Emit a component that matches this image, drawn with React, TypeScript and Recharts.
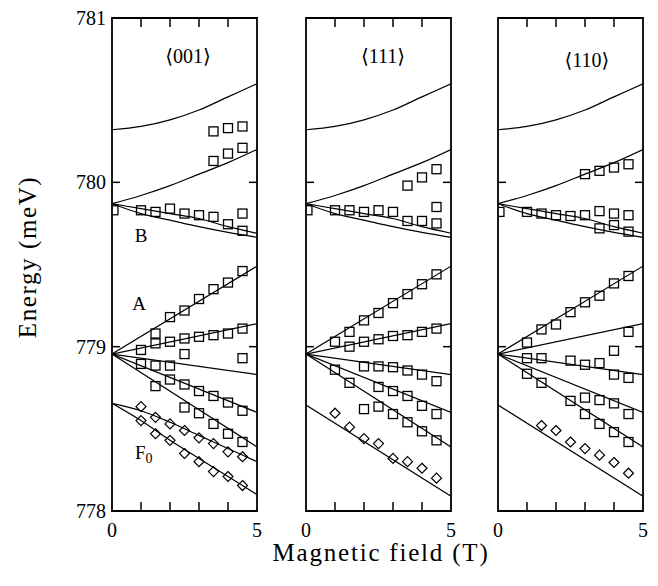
import React from "react";
import { ComposedChart, Line, Scatter, XAxis, YAxis, ReferenceArea } from "recharts";

// theory curves, read every 1 T
const curveField = [0, 1, 2, 3, 4, 5];
const topLevel = [780.32, 780.34, 780.38, 780.44, 780.52, 780.6];
const bUpper = [779.87, 779.92, 779.98, 780.05, 780.12, 780.2];
const bMiddle = [779.87, 779.84, 779.81, 779.78, 779.73, 779.69];
const bLower = [779.87, 779.81, 779.77, 779.73, 779.695, 779.665];
const f0Upper001 = [778.655, 778.61, 778.54, 778.46, 778.38, 778.3];
const f0Lower001 = [778.655, 778.55, 778.43, 778.32, 778.21, 778.1];

// straight fan lines, end points only
const lineField = [0, 5];
const a1Level = [778.955, 779.49];
const a2Level = [778.955, 779.14];
const a3Level = [778.955, 778.83];
const a4Level = [778.955, 778.6];
const a5Level = [778.955, 778.39];
const f0Level = [778.645, 778.09];

// measured points <001>
const sqField001 = [3.5, 4, 4.5, 3.5, 4, 4.5, 0.05, 1, 1.5, 2, 2.5, 3, 3.5, 4, 4.5, 4.5, 1.5, 2, 2.5, 3, 3.5, 4, 4.5, 1, 1.5, 2, 2.5, 3, 3.5, 4, 4.5, 2.5, 4.5, 1, 1.5, 2, 1.5, 2, 2.5, 3, 3.5, 4, 4.5, 2.5, 3, 3.5, 4, 4.5];
const sqEnergy001 = [780.31, 780.33, 780.34, 780.13, 780.175, 780.21, 779.83, 779.83, 779.82, 779.84, 779.81, 779.8, 779.79, 779.745, 779.705, 779.81, 779.08, 779.18, 779.22, 779.29, 779.35, 779.39, 779.46, 778.98, 779.02, 779.03, 779.05, 779.06, 779.07, 779.08, 779.11, 778.955, 778.93, 778.895, 778.885, 778.885, 778.76, 778.8, 778.77, 778.73, 778.7, 778.66, 778.61, 778.63, 778.595, 778.53, 778.47, 778.42];
const dmField001 = [1, 1.5, 2, 2.5, 3, 3.5, 4, 4.5, 1, 1.5, 2, 2.5, 3, 3.5, 4, 4.5];
const dmEnergy001 = [778.635, 778.57, 778.53, 778.49, 778.445, 778.41, 778.36, 778.33, 778.55, 778.47, 778.43, 778.35, 778.3, 778.24, 778.21, 778.155];

// measured points <111>
const sqField111 = [3.5, 4, 4.5, 4.5, 4.5, 4, 3.5, 3, 2.5, 2, 1.5, 1, 0.05, 1, 1.5, 2, 2.5, 3, 3.5, 4, 4.5, 1.5, 2, 2.5, 3, 3.5, 4, 4.5, 1, 2, 2.5, 3, 3.5, 4, 4.5, 1.5, 2.5, 3, 3.5, 4, 4.5, 2, 2.5, 3, 3.5, 4, 4.5];
const sqEnergy111 = [779.98, 780.03, 780.08, 779.85, 779.75, 779.765, 779.765, 779.82, 779.83, 779.82, 779.83, 779.83, 779.83, 779.03, 779.09, 779.16, 779.205, 779.265, 779.32, 779.38, 779.44, 779.0, 779.03, 779.045, 779.065, 779.07, 779.09, 779.11, 778.86, 778.88, 778.88, 778.875, 778.855, 778.83, 778.79, 778.78, 778.755, 778.73, 778.7, 778.64, 778.59, 778.62, 778.635, 778.59, 778.54, 778.485, 778.43];
const dmField111 = [1, 1.5, 2, 2.5, 3, 3.5, 4, 4.5];
const dmEnergy111 = [778.595, 778.51, 778.44, 778.41, 778.32, 778.3, 778.26, 778.2];

// measured points <110>
const sqField110 = [3, 3.5, 4, 4.5, 0.05, 1, 1.5, 2, 2.5, 3, 3.5, 4, 4.5, 3.5, 4, 4.5, 1, 1.5, 2, 2.5, 3, 3.5, 4, 4.5, 4.5, 1, 1.5, 2.5, 3, 3.5, 4, 4, 4.5, 1, 1.5, 3, 3.5, 4, 4.5, 2.5, 3, 3.5, 4, 4.5];
const sqEnergy110 = [780.05, 780.07, 780.09, 780.11, 779.82, 779.82, 779.81, 779.8, 779.795, 779.8, 779.825, 779.81, 779.8, 779.72, 779.74, 779.7, 779.025, 779.105, 779.135, 779.21, 779.27, 779.31, 779.385, 779.43, 779.09, 778.93, 778.93, 778.915, 778.89, 778.9, 778.975, 778.83, 778.81, 778.835, 778.78, 778.69, 778.675, 778.655, 778.59, 778.67, 778.59, 778.53, 778.48, 778.42];
const dmField110 = [1.5, 2, 2.5, 3, 3.5, 4, 4.5];
const dmEnergy110 = [778.52, 778.49, 778.42, 778.38, 778.34, 778.295, 778.23];

const fieldTicks = [0, 1, 2, 3, 4, 5];
const energyTicks = [778, 779, 780, 781];

const FONT = "'Liberation Serif', 'DejaVu Serif', serif";
const PLOT_TOP = 18;
const AXIS_W = 60;
const PLOT_W = 145;

const zip = (bs: number[], es: number[]) => bs.map((b, i) => ({ b, e: es[i] }));

const sharedCurves = [
  { type: "monotone", pts: zip(curveField, topLevel) },
  { type: "monotone", pts: zip(curveField, bUpper) },
  { type: "monotone", pts: zip(curveField, bMiddle) },
  { type: "monotone", pts: zip(curveField, bLower) },
  { type: "linear", pts: zip(lineField, a1Level) },
  { type: "linear", pts: zip(lineField, a2Level) },
  { type: "linear", pts: zip(lineField, a3Level) },
  { type: "linear", pts: zip(lineField, a4Level) },
  { type: "linear", pts: zip(lineField, a5Level) },
];

const panels = [
  {
    left: 112,
    labels: true,
    curves: [
      ...sharedCurves,
      { type: "monotone", pts: zip(curveField, f0Upper001) },
      { type: "monotone", pts: zip(curveField, f0Lower001) },
    ],
    squares: zip(sqField001, sqEnergy001),
    diamonds: zip(dmField001, dmEnergy001),
  },
  {
    left: 306,
    labels: false,
    curves: [...sharedCurves, { type: "linear", pts: zip(lineField, f0Level) }],
    squares: zip(sqField111, sqEnergy111),
    diamonds: zip(dmField111, dmEnergy111),
  },
  {
    left: 498,
    labels: false,
    curves: [...sharedCurves, { type: "linear", pts: zip(lineField, f0Level) }],
    squares: zip(sqField110, sqEnergy110),
    diamonds: zip(dmField110, dmEnergy110),
  },
];

const Square = (p: any) => (
  <rect x={p.cx - 4.5} y={p.cy - 4.5} width={9} height={9} fill="none" stroke="#000" strokeWidth={1.3} />
);

const Diamond = (p: any) => (
  <path
    d={`M${p.cx},${p.cy - 5}L${p.cx + 5},${p.cy}L${p.cx},${p.cy + 5}L${p.cx - 5},${p.cy}Z`}
    fill="none"
    stroke="#000"
    strokeWidth={1.2}
  />
);

const XTick = (props: any) => {
  const { x, y, payload } = props;
  const v = payload.value;
  const inner = v > 0 && v < 5;
  return (
    <g>
      {inner && <line x1={x} y1={y} x2={x} y2={y - 9} stroke="#000" strokeWidth={1.5} />}
      {inner && <line x1={x} y1={PLOT_TOP} x2={x} y2={PLOT_TOP + 9} stroke="#000" strokeWidth={1.5} />}
      {!inner && (
        <text x={x} y={y + 26} textAnchor="middle" fontFamily={FONT} fontSize={20} fill="#000">
          {v}
        </text>
      )}
    </g>
  );
};

const YTick = (props: any) => {
  const { x, y, payload, showLabel } = props;
  const v = payload.value;
  const inner = v > 778 && v < 781;
  return (
    <g>
      {inner && <line x1={x} y1={y} x2={x + 8} y2={y} stroke="#000" strokeWidth={1.5} />}
      {inner && <line x1={x + PLOT_W} y1={y} x2={x + PLOT_W - 8} y2={y} stroke="#000" strokeWidth={1.5} />}
      {showLabel && (
        <text x={x - 6} y={y + 7} textAnchor="end" fontFamily={FONT} fontSize={20} fill="#000">
          {v}
        </text>
      )}
    </g>
  );
};

const Panel = ({ panel }: { panel: (typeof panels)[number] }) => (
  <div style={{ position: "absolute", left: panel.left - AXIS_W, top: 0 }}>
    <ComposedChart width={AXIS_W + PLOT_W + 10} height={586} margin={{ top: PLOT_TOP, right: 10, bottom: 45, left: 0 }}>
      <XAxis
        type="number"
        dataKey="b"
        domain={[0, 5]}
        ticks={fieldTicks}
        interval={0}
        height={30}
        axisLine={false}
        tickSize={0}
        tickMargin={0}
        tick={(p: any) => <XTick {...p} />}
        allowDataOverflow
      />
      <YAxis
        type="number"
        dataKey="e"
        domain={[778, 781]}
        ticks={energyTicks}
        interval={0}
        width={AXIS_W}
        axisLine={false}
        tickSize={0}
        tickMargin={0}
        tick={(p: any) => <YTick {...p} showLabel={panel.labels} />}
        allowDataOverflow
      />
      {panel.curves.map((c, i) => (
        <Line
          key={`c${i}`}
          data={c.pts}
          dataKey="e"
          type={c.type as any}
          stroke="#000"
          strokeWidth={1.2}
          dot={false}
          activeDot={false}
          isAnimationActive={false}
        />
      ))}
      <Scatter data={panel.squares} dataKey="e" shape={Square} isAnimationActive={false} />
      <Scatter data={panel.diamonds} dataKey="e" shape={Diamond} isAnimationActive={false} />
      <ReferenceArea x1={0} x2={5} y1={778} y2={781} fill="none" stroke="#000" strokeWidth={1.8} />
    </ComposedChart>
  </div>
);

const App = () => {
  return (
    <div style={{ position: "absolute", left: 0, top: 0, width: 658, height: 586, background: "#fff" }}>
      {panels.map((p, i) => (
        <Panel key={i} panel={p} />
      ))}
      <svg width={658} height={586} style={{ position: "absolute", left: 0, top: 0, pointerEvents: "none" }}>
        <g style={{ fontFamily: FONT }} fill="#000">
          <text x={188} y={63} fontSize={20} textAnchor="middle">⟨001⟩</text>
          <text x={383} y={63} fontSize={20} textAnchor="middle">⟨111⟩</text>
          <text x={587} y={67} fontSize={20} textAnchor="middle">⟨110⟩</text>
          <text x={141} y={242} fontSize={19} textAnchor="middle">B</text>
          <text x={139} y={310} fontSize={19} textAnchor="middle">A</text>
          <text x={135} y={459} fontSize={19}>
            F<tspan dy={4} fontSize={14}>0</tspan>
          </text>
          <text x={27} y={257} fontSize={25} letterSpacing={1.6} textAnchor="middle" dominantBaseline="central" transform="rotate(-90 27 257)">
            Energy (meV)
          </text>
          <text x={381} y={561} fontSize={25} letterSpacing={1.8} textAnchor="middle">
            Magnetic field (T)
          </text>
        </g>
      </svg>
    </div>
  );
};

export default App;
